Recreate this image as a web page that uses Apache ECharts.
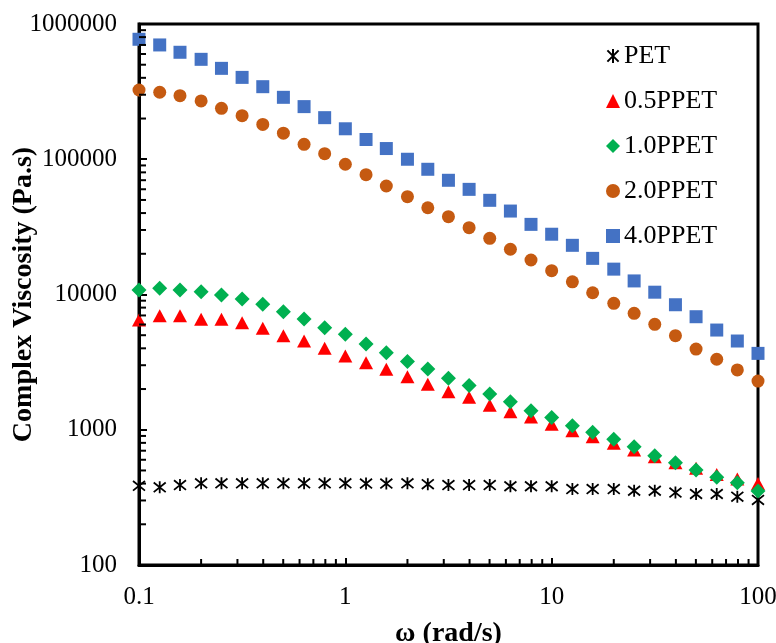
<!DOCTYPE html>
<html>
<head>
<meta charset="utf-8">
<script src="https://cdn.jsdelivr.net/npm/echarts@6/dist/echarts.min.js"></script>
<style>html,body{margin:0;padding:0;background:#fff}#c{width:776px;height:643px}</style>
</head>
<body>
<div id="c"></div>
<script>
// angular frequency (rad/s)
var omega = [0.1, 0.126, 0.158, 0.2, 0.251, 0.316, 0.398, 0.501, 0.631, 0.794, 1, 1.26, 1.58, 2, 2.51, 3.16, 3.98, 5.01, 6.31, 7.94, 10, 12.6, 15.8, 20, 25.1, 31.6, 39.8, 50.1, 63.1, 79.4, 100];
var seriesNames = ['PET', '0.5PPET', '1.0PPET', '2.0PPET', '4.0PPET'];
var PET = [385, 375, 390, 402, 402, 402, 402, 402, 402, 402, 402, 400, 400, 402, 396, 390, 390, 390, 382, 382, 382, 364, 364, 364, 354, 354, 343, 335, 335, 320, 303];
var PPET05 = [6480, 6970, 6970, 6550, 6550, 6190, 5620, 4960, 4530, 4000, 3510, 3130, 2800, 2470, 2170, 1910, 1740, 1520, 1360, 1240, 1100, 984, 889, 794, 708, 632, 570, 519, 466, 432, 400];
var PPET10 = [10800, 11100, 10800, 10500, 9910, 9260, 8460, 7460, 6590, 5680, 5080, 4310, 3710, 3190, 2810, 2400, 2120, 1840, 1610, 1380, 1230, 1070, 957, 850, 750, 643, 570, 504, 445, 405, 352];
var PPET20 = [325000, 313000, 295000, 270000, 238000, 210000, 181000, 156000, 129000, 110000, 91800, 76900, 63400, 52900, 43800, 37600, 31200, 26000, 21600, 18000, 15000, 12400, 10300, 8600, 7260, 6020, 4960, 3950, 3320, 2770, 2290];
var PPET40 = [771000, 700000, 618000, 548000, 470000, 403000, 344000, 287000, 245000, 203000, 168000, 140000, 120000, 100000, 84300, 69900, 59900, 49700, 41400, 33000, 27900, 23100, 18500, 15400, 12600, 10400, 8400, 6850, 5460, 4530, 3670];
// minor tick values
var xMinorTicks = [0.2,0.3,0.4,0.5,0.6,0.7,0.8,0.9,2,3,4,5,6,7,8,9,20,30,40,50,60,70,80,90];
var yMinorTicks = [200,300,400,500,600,700,800,900,2000,3000,4000,5000,6000,7000,8000,9000,20000,30000,40000,50000,60000,70000,80000,90000,200000,300000,400000,500000,600000,700000,800000,900000];

var FONT = 'Liberation Serif';
var asterisk = 'path://M1,1L9,9M9,1L1,9M5,0L5,10';

function pts(arr) { return omega.map(function (x, i) { return [x, arr[i]]; }); }

function fmt(v) { return String(+(+v).toPrecision(6)); }

var chart = echarts.init(document.getElementById('c'), null, { renderer: 'canvas' });
var option = {
  animation: false,
  backgroundColor: '#fff',
  grid: { left: 139, right: 18, top: 24, bottom: 78, containLabel: false, outerBoundsMode: 'none',
    show: true, borderColor: '#000', borderWidth: 3, backgroundColor: 'transparent' },
  xAxis: {
    type: 'log', logBase: 10, min: 0.1, max: 100,
    name: 'ω (rad/s)', nameLocation: 'middle', nameGap: 55, nameMoveOverlap: false,
    nameTextStyle: { fontFamily: FONT, fontSize: 28, fontWeight: 'bold', color: '#000' },
    axisLine: { show: true, lineStyle: { color: '#000', width: 3 } },
    axisTick: { show: true, inside: true, length: 7, lineStyle: { color: '#000', width: 2 } },
    axisLabel: { fontFamily: FONT, fontSize: 25, color: '#000', margin: 20, formatter: fmt },
    splitLine: { show: false }
  },
  yAxis: {
    type: 'log', logBase: 10, min: 100, max: 1000000,
    name: 'Complex Viscosity (Pa.s)', nameLocation: 'middle', nameGap: 101, nameMoveOverlap: false,
    nameTextStyle: { fontFamily: FONT, fontSize: 28, fontWeight: 'bold', color: '#000' },
    axisLine: { show: true, lineStyle: { color: '#000', width: 3 } },
    axisTick: { show: true, inside: true, length: 8, lineStyle: { color: '#000', width: 2 } },
    axisLabel: { fontFamily: FONT, fontSize: 25, color: '#000', margin: 22, formatter: fmt },
    splitLine: { show: false }
  },
  legend: {
    orient: 'vertical', left: 606, top: 43, padding: 0,
    itemWidth: 14, itemHeight: 14, itemGap: 19,
    textStyle: { fontFamily: FONT, fontSize: 26, color: '#000', lineHeight: 26, padding: [0, 0, 0, -1] },
    data: seriesNames
  },
  series: [
    { name: seriesNames[0], type: 'scatter', data: pts(PET), symbol: asterisk, symbolSize: 12, clip: false,
      itemStyle: { color: '#000', borderColor: '#000', borderWidth: 1.8, opacity: 1 } },
    { name: seriesNames[1], type: 'scatter', data: pts(PPET05), symbol: 'triangle', symbolSize: [14, 13], clip: false,
      itemStyle: { color: '#FF0000', opacity: 1 } },
    { name: seriesNames[2], type: 'scatter', data: pts(PPET10), symbol: 'diamond', symbolSize: 15, clip: false,
      itemStyle: { color: '#00B050', opacity: 1 } },
    { name: seriesNames[3], type: 'scatter', data: pts(PPET20), symbol: 'circle', symbolSize: 13, clip: false,
      itemStyle: { color: '#C55A11', opacity: 1 } },
    { name: seriesNames[4], type: 'scatter', data: pts(PPET40), symbol: 'rect', symbolSize: 13, clip: false,
      itemStyle: { color: '#4472C4', opacity: 1 } },
    { type: 'custom', silent: true, clip: false, z: 5,
      data: xMinorTicks.map(function (v) { return [v, 100]; }),
      renderItem: function (params, api) {
        var p = api.coord([api.value(0), api.value(1)]);
        return { type: 'line', shape: { x1: p[0], y1: p[1], x2: p[0], y2: p[1] - 6 }, style: { stroke: '#000', lineWidth: 2 } };
      } },
    { type: 'custom', silent: true, clip: false, z: 5,
      data: yMinorTicks.map(function (v) { return [0.1, v]; }),
      renderItem: function (params, api) {
        var p = api.coord([api.value(0), api.value(1)]);
        return { type: 'line', shape: { x1: p[0], y1: p[1], x2: p[0] + 7, y2: p[1] }, style: { stroke: '#000', lineWidth: 2 } };
      } }
  ]
};
chart.setOption(option);
</script>
</body>
</html>
